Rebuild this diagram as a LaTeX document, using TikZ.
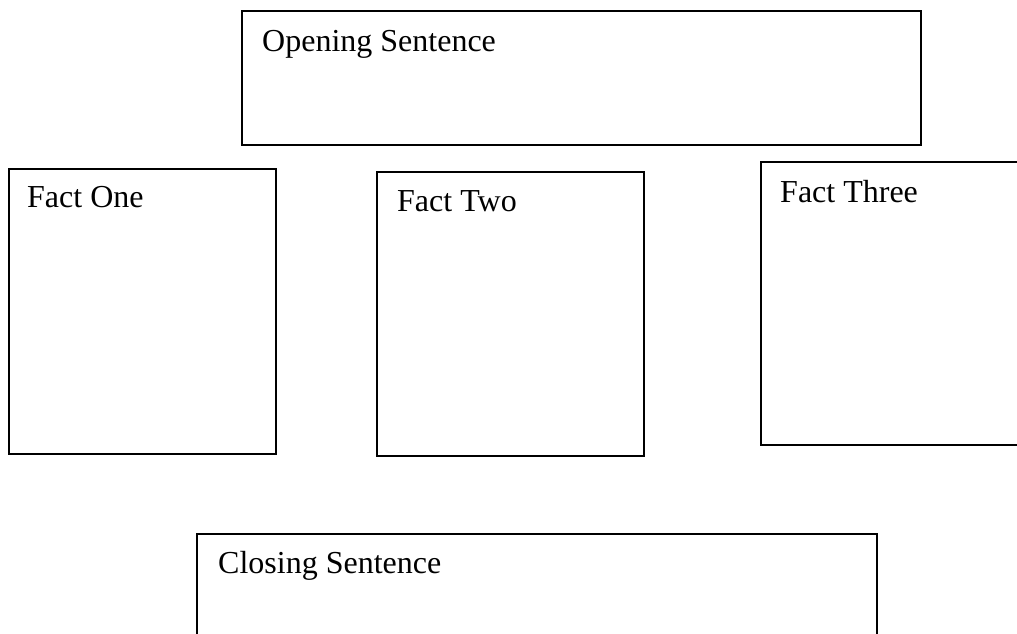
\documentclass[tikz,border=0pt]{standalone}
\usepackage{fontspec}
\setmainfont{Liberation Serif}
\begin{document}
\begin{tikzpicture}[x=1pt,y=-1pt,
  box/.style={draw=black,line width=1.6pt,rectangle,inner sep=0pt,anchor=north west},
  lbl/.style={anchor=base west,inner sep=0pt,font=\fontsize{32}{38}\selectfont}]
\useasboundingbox (0,0) rectangle (1017,633);
\clip (0,0) rectangle (1017,633);
\node[box,minimum width=679pt,minimum height=134pt] (open) at (241,10) {};
\node[lbl] (opent) at (262,51) {Opening Sentence};
\node[box,minimum width=267pt,minimum height=285pt] (f1) at (8,168) {};
\node[lbl] (f1t) at (27,207) {Fact One};
\node[box,minimum width=267pt,minimum height=284pt] (f2) at (376,171) {};
\node[lbl] (f2t) at (397,211) {Fact Two};
\node[box,minimum width=300pt,minimum height=283pt] (f3) at (760,161) {};
\node[lbl] (f3t) at (780,202) {Fact Three};
\node[box,minimum width=680pt,minimum height=130pt] (close) at (196,533) {};
\node[lbl] (closet) at (218,573) {Closing Sentence};
\end{tikzpicture}
\end{document}
